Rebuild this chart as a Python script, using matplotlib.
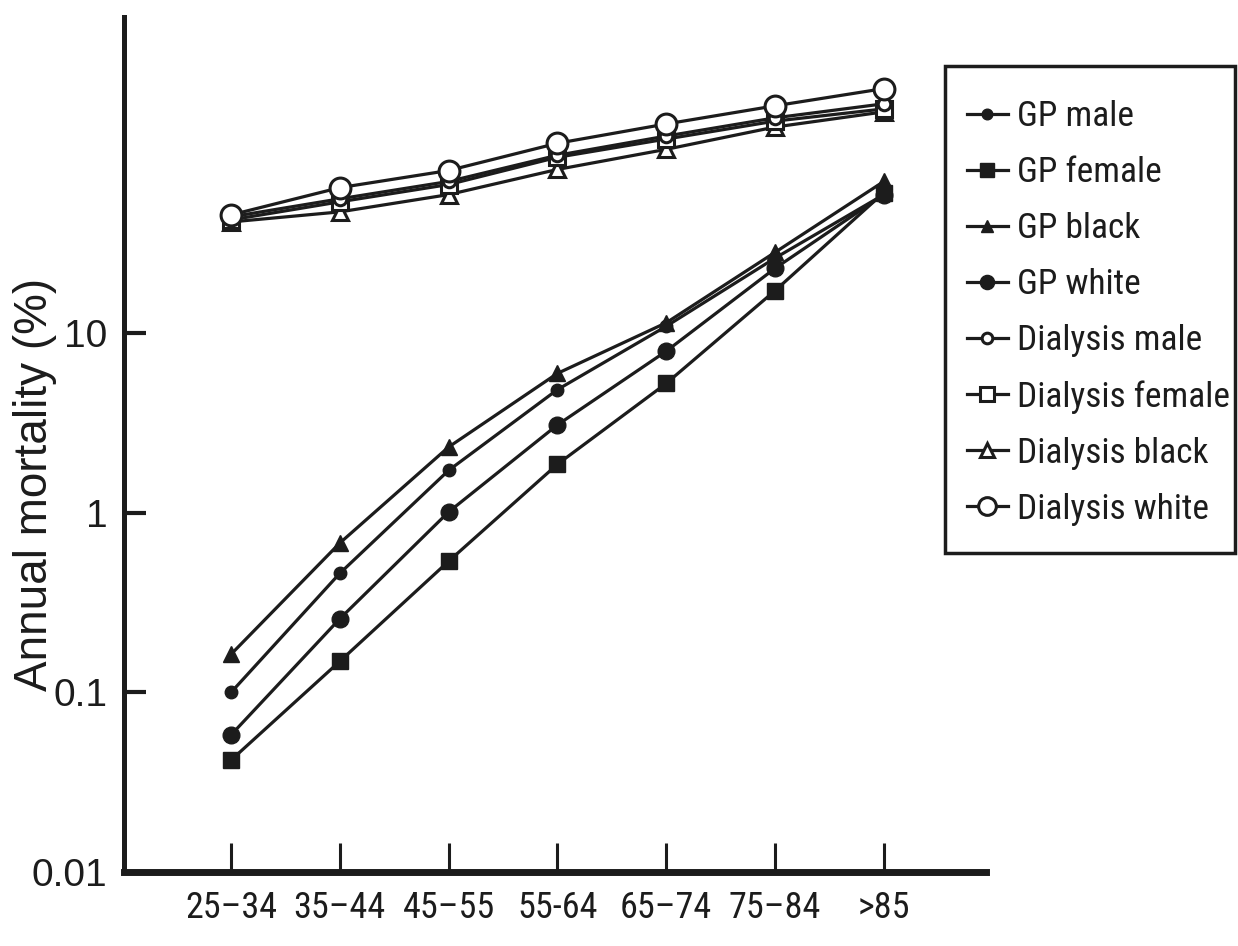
import matplotlib
matplotlib.use("Agg")
import matplotlib.pyplot as plt
from matplotlib import font_manager as fm
from matplotlib.patches import Rectangle
from matplotlib.ticker import NullLocator, FixedLocator, FixedFormatter

# ---- data ----
age_groups = ['25–34', '35–44', '45–55', '55-64', '65–74', '75–84', '>85']

gp_male = [0.10, 0.46, 1.72, 4.84, 10.9, 26.1, 58.9]
gp_female = [0.042, 0.149, 0.537, 1.86, 5.24, 17.2, 60.4]
gp_black = [0.163, 0.678, 2.32, 5.96, 11.4, 28.1, 69.7]
gp_white = [0.058, 0.257, 1.01, 3.08, 7.92, 22.9, 58.9]

dial_male = [44.3, 55.8, 69.7, 97.5, 124.7, 157.5, 188.5]
dial_female = [42.6, 53.7, 67.0, 95.0, 120.0, 151.0, 176.6]
dial_black = [41.5, 47.2, 58.9, 81.3, 105.2, 140.0, 170.0]
dial_white = [45.4, 64.4, 80.2, 113.7, 145.6, 183.7, 229.0]

y_ticks = [0.01, 0.1, 1, 10]
y_tick_labels = ['0.01', '0.1', '1', '10']


# ---- fonts: look for a condensed face ----
def find_condensed():
    prefs = ['Liberation Sans Narrow', 'Roboto Condensed', 'Open Sans Condensed',
             'Noto Sans Condensed', 'DejaVu Sans Condensed']
    cands = []
    for f in fm.fontManager.ttflist:
        fname = f.fname.lower()
        is_cond = ('narrow' in fname or 'condensed' in fname
                   or str(f.stretch) in ('condensed', 'semi-condensed', 'extra-condensed')
                   or 'Narrow' in f.name or 'Condensed' in f.name)
        if not is_cond:
            continue
        if f.style != 'normal':
            continue
        if f.weight not in (400, 'normal', 'regular', 'Regular'):
            continue
        if 'bold' in fname or 'italic' in fname or 'light' in fname or 'oblique' in fname:
            continue
        cands.append(f)
    if not cands:
        return None

    def rank(f):
        key = (f.name + ' ' + f.fname).replace(' ', '').lower()
        for i, p in enumerate(prefs):
            if p.replace(' ', '').lower() in key:
                return i
        if 'dejavu' in key:
            return 4
        return 10
    cands.sort(key=rank)
    return cands[0].fname


cond_path = find_condensed()


def narrow_fp(size):
    if cond_path is not None:
        return fm.FontProperties(fname=cond_path, size=size)
    return fm.FontProperties(family=['Liberation Sans', 'DejaVu Sans'], size=size * 0.8)


def regular_fp(size):
    return fm.FontProperties(family=['Liberation Sans', 'DejaVu Sans'], size=size)


ink = '#1c1c1c'
W, H = 1238, 946

fig = plt.figure(figsize=(W / 100, H / 100), dpi=100)
ax = fig.add_axes([0.100, 0.078, 0.6965, 0.904])
x = list(range(len(age_groups)))

lw = 2.3
series = [
    # (values, label, marker, ms, filled)
    (dial_black, 'Dialysis black', '^', 12, False),
    (dial_female, 'Dialysis female', 's', 12, False),
    (dial_male, 'Dialysis male', 'o', 9, False),
    (dial_white, 'Dialysis white', 'o', 15, False),
    (gp_female, 'GP female', 's', 12, True),
    (gp_white, 'GP white', 'o', 12, True),
    (gp_male, 'GP male', 'o', 9, True),
    (gp_black, 'GP black', '^', 11, True),
]
handles = {}
for vals, lab, mk, ms, filled in series:
    h, = ax.plot(x, vals, color=ink, lw=lw, marker=mk, markersize=ms,
                 markerfacecolor=ink if filled else 'white',
                 markeredgecolor=ink, markeredgewidth=2.2 if not filled else 1.0,
                 label=lab, zorder=3)
    handles[lab] = h

ax.set_yscale('log')
ax.set_ylim(0.01, 573)
ax.set_xlim(-0.985, 6.94)

for s in ['top', 'right']:
    ax.spines[s].set_visible(False)
ax.spines['left'].set_linewidth(3.6)
ax.spines['bottom'].set_linewidth(5)
ax.spines['left'].set_color(ink)
ax.spines['bottom'].set_color(ink)

ax.set_xticks(x)
ax.set_xticklabels(age_groups, color=ink)
for t in ax.get_xticklabels():
    t.set_fontproperties(narrow_fp(26))
ax.yaxis.set_major_locator(FixedLocator(y_ticks))
ax.yaxis.set_major_formatter(FixedFormatter(y_tick_labels))
ax.yaxis.set_minor_locator(NullLocator())
for t in ax.get_yticklabels():
    t.set_fontproperties(regular_fp(28))
    t.set_color(ink)

ax.tick_params(axis='x', direction='in', length=21, width=2.2, pad=13, colors=ink)
ax.tick_params(axis='y', direction='in', length=16, width=3, pad=12, colors=ink)

ax.set_ylabel('Annual mortality (%)', fontproperties=regular_fp(33), color=ink)
ax.yaxis.set_label_coords(-0.078, 0.453)

# ---- legend (content without frame, frame drawn as a box) ----
order = ['GP male', 'GP female', 'GP black', 'GP white',
         'Dialysis male', 'Dialysis female', 'Dialysis black', 'Dialysis white']
leg = fig.legend([handles[k] for k in order], order,
                 loc='upper left', bbox_to_anchor=(967 / W, 1 - 100 / H),
                 borderaxespad=0, borderpad=0, frameon=False,
                 prop=narrow_fp(25.5),
                 handlelength=1.15, handletextpad=0.27, labelspacing=0.65,
                 markerscale=0.85)
for t in leg.get_texts():
    t.set_color(ink)

fig.add_artist(Rectangle((945 / W, 1 - 553 / H), 290 / W, 487 / H,
                         transform=fig.transFigure, fill=False,
                         edgecolor=ink, linewidth=2.5))

fig.savefig('out.png', dpi=100)
